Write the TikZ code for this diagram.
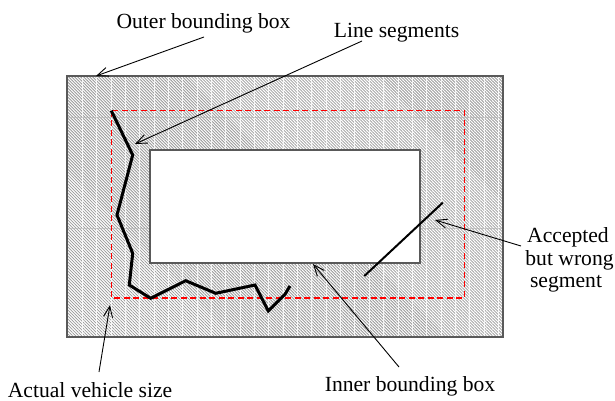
\documentclass[tikz,border=0pt]{standalone}
\usepackage{fontspec}
\setmainfont{Liberation Serif}
\usetikzlibrary{arrows.meta,patterns.meta}
\begin{document}
\begin{tikzpicture}[x=0.5pt,y=-0.5pt,
  lbl/.style={font=\fontsize{10.8}{11.25}\selectfont, inner sep=0pt, anchor=base},
  ptr/.style={line width=0.45pt, -{Straight Barb[length=5.5pt,width=4.5pt]}},
  hatchfill/.style={pattern={Lines[angle=-45,distance=1.06pt,line width=0.4pt]}, pattern color=black!40},
  seam/.style={white, line width=0.5pt, opacity=0.8},
  hseam/.style={black!30, line width=0.4pt, opacity=0.6},
  boxline/.style={draw=black!65, line width=0.7pt},
  vehicle/.style={draw=red, line width=0.7pt, dash pattern=on 3pt off 1.75pt},
  segs/.style={draw=black, line width=1.5pt, line join=miter},
  wrongseg/.style={draw=black, line width=1pt}]
\useasboundingbox (0,0) rectangle (615,401);
% hatched outer area
\fill[white] (67,76) rectangle (503,337);
\fill[hatchfill] (67,76) rectangle (503,337);
\foreach \k in {0,...,29} \draw[seam] ({82.3+14.35*\k},76.5) -- ({82.3+14.35*\k},336.5);
\draw[hseam] (67,117.3) -- (503,117.3);
\draw[hseam] (67,228.3) -- (503,228.3);
% inner bounding box
\filldraw[fill=white, boxline] (150,150) rectangle (420,263);
% actual vehicle size
\draw[vehicle] (111.3,110.7) rectangle (464.3,298);
% outer border
\draw[boxline] (67,76) rectangle (503,337);
% line segments
\draw[segs] (111.3,110.7) -- (132.7,155) -- (117,215) -- (132.7,253.3) -- (129.3,285)
  -- (150.7,298.3) -- (185.7,280.7) -- (215.7,293.3) -- (255,285) -- (268.3,311)
  -- (285,294.3) -- (290,286);
% accepted but wrong segment
\draw[wrongseg] (442.7,202.7) -- (364.3,276);
% labels
\node[lbl] (outer) at (203.5,28.5) {Outer bounding box};
\node[lbl] (lineseg) at (396.5,37.5) {Line segments};
\node[lbl] (acc1) at (568,242.3) {Accepted};
\node[lbl] (acc2) at (569.5,265.5) {but wrong};
\node[lbl] (acc3) at (566,287.5) {segment};
\node[lbl] (inner) at (410,391.5) {Inner bounding box};
\node[lbl] (actual) at (90,397) {Actual vehicle size};
% arrow coordinates
\coordinate (a1s) at (204,37);
\coordinate (a1t) at (96,76);
\coordinate (a2s) at (362,41);
\coordinate (a2t) at (135,144);
\coordinate (a3s) at (521,246);
\coordinate (a3t) at (435,220);
\coordinate (a4s) at (399,367);
\coordinate (a4t) at (313,264);
\coordinate (a5s) at (99,372);
\coordinate (a5t) at (110,305);
\draw[ptr] (a1s) -- (a1t);
\draw[ptr] (a2s) -- (a2t);
\draw[ptr] (a3s) -- (a3t);
\draw[ptr] (a4s) -- (a4t);
\draw[ptr] (a5s) -- (a5t);
\end{tikzpicture}
\end{document}
